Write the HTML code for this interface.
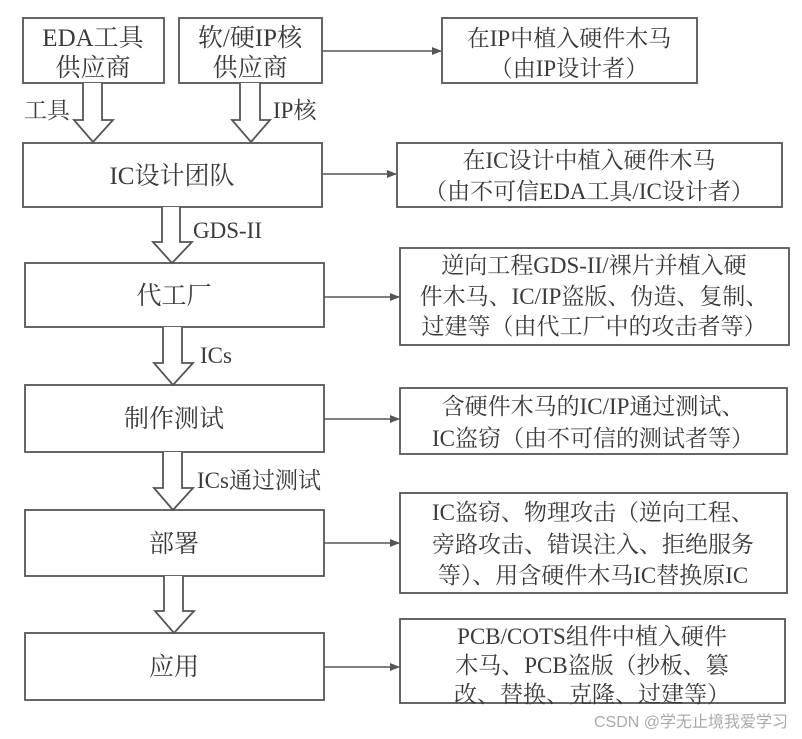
<!DOCTYPE html>
<html><head><meta charset="utf-8"><style>
html,body{margin:0;padding:0;background:#fff}
svg{display:block}
text{font-family:"Liberation Serif","Noto Serif CJK SC",serif;fill:#3a3a3a}
</style></head><body>
<svg width="802" height="739" viewBox="0 0 802 739" xmlns="http://www.w3.org/2000/svg">
<defs><marker id="ah" markerWidth="10" markerHeight="8" refX="9" refY="4" orient="auto" markerUnits="userSpaceOnUse"><path d="M0,0 L10,4 L0,8 Z" fill="#555"/></marker></defs>
<g fill="none" stroke="#555" stroke-width="1.8">
<rect x="23" y="18" width="141" height="65"/>
<rect x="179" y="18" width="143" height="65"/>
<rect x="442" y="18" width="255" height="65"/>
<rect x="23" y="143" width="299" height="64"/>
<rect x="397" y="143" width="385" height="64"/>
<rect x="25" y="263" width="299" height="64"/>
<rect x="400" y="248" width="389" height="97"/>
<rect x="25" y="385" width="299" height="67"/>
<rect x="400" y="388" width="387" height="66"/>
<rect x="25" y="510" width="299" height="66"/>
<rect x="400" y="493" width="387" height="100"/>
<rect x="25" y="633" width="299" height="67"/>
<rect x="400" y="619" width="385" height="84"/>
</g>
<g fill="#fff" stroke="#555" stroke-width="1.8">
<path d="M83,83 V120 H74 L93,142 L113,120 H102 V83"/>
<path d="M240,83 V120 H232 L251,142 L270,120 H260 V83"/>
<path d="M162,207 V242 H153 L172,263 L192,242 H180 V207"/>
<path d="M163,327 V363 H154 L173,385 L193,363 H182 V327"/>
<path d="M163,452 V488 H154 L173,510 L193,488 H182 V452"/>
<path d="M164,576 V611 H155 L174,633 L194,611 H183 V576"/>
</g>
<g stroke="#555" stroke-width="1.6" marker-end="url(#ah)">
<line x1="322" y1="51" x2="441" y2="51"/>
<line x1="322" y1="174" x2="396" y2="174"/>
<line x1="324" y1="297" x2="399" y2="297"/>
<line x1="324" y1="419" x2="399" y2="419"/>
<line x1="324" y1="543" x2="399" y2="543"/>
<line x1="324" y1="667" x2="399" y2="667"/>
</g>
<g font-size="25" text-anchor="middle">
<text x="93" y="46">EDA工具</text><text x="93" y="76">供应商</text>
<text x="250" y="46">软/硬IP核</text><text x="250" y="76">供应商</text>
<text x="172" y="184">IC设计团队</text>
<text x="174" y="304">代工厂</text>
<text x="174" y="427">制作测试</text>
<text x="174" y="552">部署</text>
<text x="174" y="675">应用</text>
</g>
<g font-size="23">
<text x="24" y="118">工具</text>
<text x="273" y="118">IP核</text>
<text x="193" y="238">GDS-II</text>
<text x="200" y="363">ICs</text>
<text x="197" y="488">ICs通过测试</text>
</g>
<g font-size="23" text-anchor="middle">
<text x="569" y="46">在IP中植入硬件木马</text><text x="569" y="76">（由IP设计者）</text>
<text x="589" y="168">在IC设计中植入硬件木马</text><text x="589" y="199">（由不可信EDA工具/IC设计者）</text>
<text x="594" y="273">逆向工程GDS-II/裸片并植入硬</text><text x="594" y="304">件木马、IC/IP盗版、伪造、复制、</text><text x="594" y="334">过建等（由代工厂中的攻击者等）</text>
<text x="593" y="414">含硬件木马的IC/IP通过测试、</text><text x="593" y="446">IC盗窃（由不可信的测试者等）</text>
<text x="593" y="520">IC盗窃、物理攻击（逆向工程、</text><text x="593" y="552">旁路攻击、错误注入、拒绝服务</text><text x="593" y="583">等）、用含硬件木马IC替换原IC</text>
<text x="592" y="644">PCB/COTS组件中植入硬件</text><text x="592" y="673">木马、PCB盗版（抄板、篡</text><text x="592" y="702">改、替换、克隆、过建等）</text>
</g>
<text x="788" y="727" font-size="16" text-anchor="end" style="font-family:'Liberation Sans','Noto Sans CJK SC',sans-serif;fill:#aaa">CSDN @学无止境我爱学习</text>
</svg>
</body></html>
